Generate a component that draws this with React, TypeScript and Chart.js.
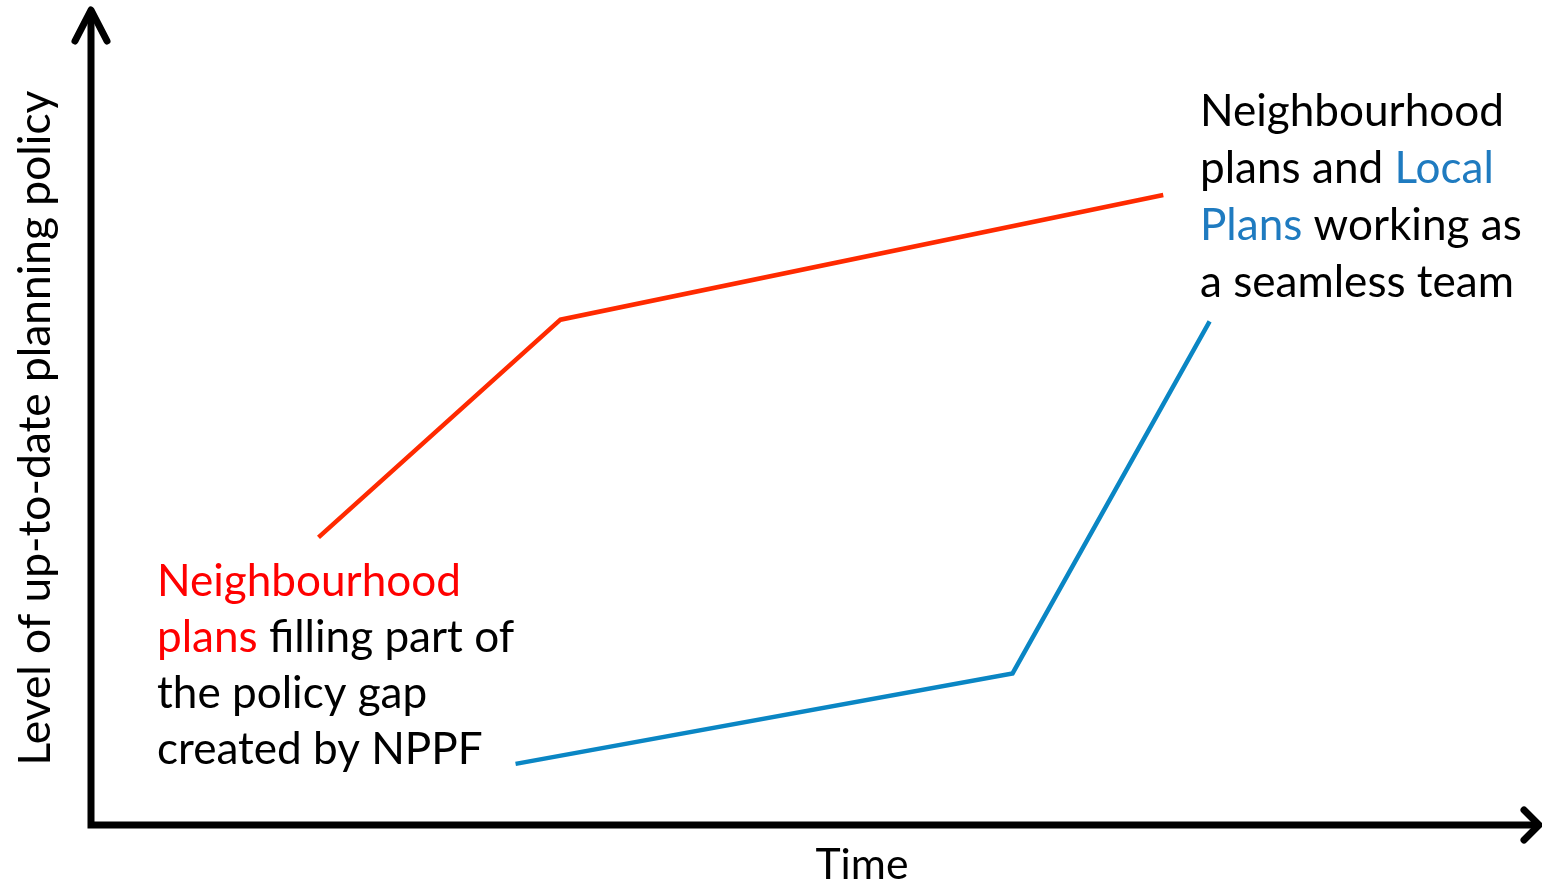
import React, { useEffect, useRef } from "react";
import { Chart, registerables } from "chart.js";

Chart.register(...registerables);

// Time axis (0–100) and policy level axis (0–100), arbitrary units
const redTime = [15.7, 32.4, 74.0];
const redLevel = [35.3, 62.0, 77.3];
const blueTime = [29.3, 63.6, 77.2];
const blueLevel = [7.5, 18.6, 61.8];

const xTitle = "Time";
const yTitle = "Level of up-to-date planning policy";

type Seg = { t: string; c: string };
const leftNote: Seg[][] = [
  [{ t: "Neighbourhood", c: "#FF0000" }],
  [{ t: "plans", c: "#FF0000" }, { t: " filling part of", c: "#000000" }],
  [{ t: "the policy gap", c: "#000000" }],
  [{ t: "created by NPPF", c: "#000000" }],
];
const rightNote: Seg[][] = [
  [{ t: "Neighbourhood", c: "#000000" }],
  [{ t: "plans and ", c: "#000000" }, { t: "Local", c: "#1F7BC0" }],
  [{ t: "Plans", c: "#1F7BC0" }, { t: " working as", c: "#000000" }],
  [{ t: "a seamless team", c: "#000000" }],
];

const FONT = "Lato, 'Open Sans', sans-serif";

function fitSize(ctx: CanvasRenderingContext2D, text: string, width: number) {
  ctx.font = `100px ${FONT}`;
  const w = ctx.measureText(text).width;
  return (100 * width) / w;
}

const decor = {
  id: "decor",
  afterDraw(chart: any) {
    const { ctx, chartArea } = chart;
    const { left, right, top, bottom } = chartArea;
    ctx.save();
    // axes
    ctx.strokeStyle = "#000";
    ctx.lineWidth = 7;
    ctx.lineCap = "butt";
    ctx.beginPath();
    ctx.moveTo(left, bottom + 3.5);
    ctx.lineTo(left, top + 2);
    ctx.moveTo(left - 3.5, bottom);
    ctx.lineTo(right - 2, bottom);
    ctx.stroke();
    // arrowheads
    ctx.lineCap = "round";
    ctx.lineJoin = "round";
    ctx.beginPath();
    ctx.moveTo(left - 16, top + 31);
    ctx.lineTo(left, top);
    ctx.lineTo(left + 16, top + 31);
    ctx.stroke();
    ctx.beginPath();
    ctx.moveTo(right - 16, bottom - 15);
    ctx.lineTo(right - 1, bottom);
    ctx.lineTo(right - 16, bottom + 15);
    ctx.stroke();

    // notes
    const size = fitSize(ctx, "Neighbourhood", 304);
    ctx.font = `${size}px ${FONT}`;
    ctx.textBaseline = "alphabetic";
    ctx.textAlign = "left";
    const drawNote = (lines: Seg[][], x: number, y0: number, step: number) => {
      lines.forEach((line, i) => {
        let x1 = x;
        line.forEach((s) => {
          ctx.fillStyle = s.c;
          ctx.fillText(s.t, x1, y0 + i * step);
          x1 += ctx.measureText(s.t).width;
        });
      });
    };
    drawNote(leftNote, 157, 596, 56);
    drawNote(rightNote, 1200, 126, 57);

    // axis titles
    const ts = fitSize(ctx, xTitle, 93);
    ctx.font = `${ts}px ${FONT}`;
    ctx.fillStyle = "#000";
    ctx.textAlign = "center";
    ctx.fillText(xTitle, 862, 879);

    const ys = fitSize(ctx, yTitle, 675);
    ctx.font = `${ys}px ${FONT}`;
    ctx.translate(50, 428);
    ctx.rotate(-Math.PI / 2);
    ctx.fillText(yTitle, 0, 0);
    ctx.restore();
  },
};

export default function App() {
  const ref = useRef<HTMLCanvasElement>(null);
  useEffect(() => {
    document.body.style.margin = "0";
    const canvas = ref.current!;
    const chart = new Chart(canvas, {
      type: "line",
      data: {
        datasets: [
          {
            label: "Neighbourhood plans",
            data: redTime.map((x, i) => ({ x, y: redLevel[i] })),
            borderColor: "#FF2A00",
            borderWidth: 4.5,
            pointRadius: 0,
            tension: 0,
            borderCapStyle: "butt",
            borderJoinStyle: "miter",
          },
          {
            label: "Local Plans",
            data: blueTime.map((x, i) => ({ x, y: blueLevel[i] })),
            borderColor: "#0A86C4",
            borderWidth: 4.5,
            pointRadius: 0,
            tension: 0,
            borderCapStyle: "butt",
            borderJoinStyle: "miter",
          },
        ],
      },
      options: {
        animation: false,
        responsive: false,
        devicePixelRatio: 1,
        layout: { padding: { left: 91, right: 2, top: 10, bottom: 62 } },
        plugins: { legend: { display: false }, tooltip: { enabled: false } },
        scales: {
          x: { type: "linear", min: 0, max: 100, display: false },
          y: { type: "linear", min: 0, max: 100, display: false },
        },
      },
      plugins: [decor],
    });
    return () => chart.destroy();
  }, []);
  return (
    <div style={{ width: 1542, height: 887, background: "#fff" }}>
      <canvas ref={ref} width={1542} height={887} style={{ display: "block" }} />
    </div>
  );
}
